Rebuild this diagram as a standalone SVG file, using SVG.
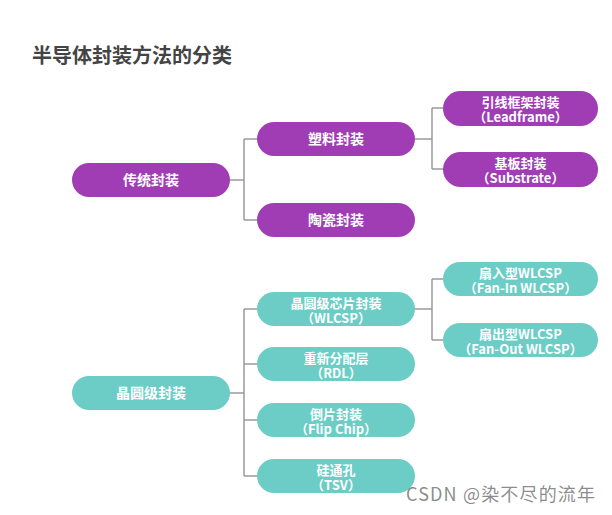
<svg xmlns="http://www.w3.org/2000/svg" width="612" height="515" viewBox="0 0 612 515">
<style>
.p{fill:#a03db5}
.t{fill:#6bcdc6}
.lbl{font-family:"Noto Sans CJK SC","Noto Sans",sans-serif;font-weight:bold;fill:#fff;text-anchor:middle}
.s14{font-size:14px}
.s13{font-size:13px}
.c{fill:none;stroke:#9a9a9a;stroke-width:1.5}
</style>
<rect width="612" height="515" fill="#fff"/>
<text x="32" y="63" font-family="'Noto Sans CJK SC',sans-serif" font-weight="bold" font-size="20" fill="#444">半导体封装方法的分类</text>
<g id="connectors">
<path class="c" d="M230 180H244M244 139V220M244 139H257M244 220H257"/>
<path class="c" d="M415 139H432M432 108V169M432 108H443M432 169H443"/>
<path class="c" d="M230 393H244M244 309V476M244 309H257M244 364H257M244 420H257M244 476H257"/>
<path class="c" d="M415 309H432M432 279V340M432 279H443M432 340H443"/>
</g>
<g id="n1"><rect class="p" x="72" y="163" width="158" height="34" rx="17"/><text class="lbl s14" x="151" y="185">传统封装</text></g>
<g id="n2"><rect class="p" x="257" y="122" width="158" height="34" rx="17"/><text class="lbl s14" x="336" y="144">塑料封装</text></g>
<g id="n3"><rect class="p" x="257" y="203" width="158" height="34" rx="17"/><text class="lbl s14" x="336" y="225">陶瓷封装</text></g>
<g id="n4"><rect class="p" x="443" y="91" width="155" height="35" rx="17.5"/><text class="lbl s13"><tspan x="520.5" y="107">引线框架封装</tspan><tspan x="520.5" y="122">（Leadframe）</tspan></text></g>
<g id="n5"><rect class="p" x="443" y="152" width="155" height="35" rx="17.5"/><text class="lbl s13"><tspan x="520.5" y="168">基板封装</tspan><tspan x="520.5" y="183">（Substrate）</tspan></text></g>
<g id="n6"><rect class="t" x="72" y="376" width="158" height="34" rx="17"/><text class="lbl s14" x="151" y="398">晶圆级封装</text></g>
<g id="n7"><rect class="t" x="257" y="292" width="158" height="34" rx="17"/><text class="lbl s13"><tspan x="336" y="308">晶圆级芯片封装</tspan><tspan x="336" y="323">（WLCSP）</tspan></text></g>
<g id="n8"><rect class="t" x="257" y="347" width="158" height="34" rx="17"/><text class="lbl s13"><tspan x="336" y="363">重新分配层</tspan><tspan x="336" y="378">（RDL）</tspan></text></g>
<g id="n9"><rect class="t" x="257" y="403" width="158" height="34" rx="17"/><text class="lbl s13"><tspan x="336" y="419">倒片封装</tspan><tspan x="336" y="434">（Flip Chip）</tspan></text></g>
<g id="n10"><rect class="t" x="257" y="459" width="158" height="34" rx="17"/><text class="lbl s13"><tspan x="336" y="475">硅通孔</tspan><tspan x="336" y="490">（TSV）</tspan></text></g>
<g id="n11"><rect class="t" x="443" y="262" width="155" height="34" rx="17"/><text class="lbl s13"><tspan x="520.5" y="278">扇入型WLCSP</tspan><tspan x="520.5" y="293">（Fan-In WLCSP）</tspan></text></g>
<g id="n12"><rect class="t" x="443" y="323" width="155" height="34" rx="17"/><text class="lbl s13"><tspan x="520.5" y="339">扇出型WLCSP</tspan><tspan x="520.5" y="354">（Fan-Out WLCSP）</tspan></text></g>
<text x="406" y="501" font-family="'Noto Sans CJK SC',sans-serif" font-size="18" fill="#777" fill-opacity="0.85" textLength="189" lengthAdjust="spacing">CSDN @染不尽的流年</text>
</svg>
